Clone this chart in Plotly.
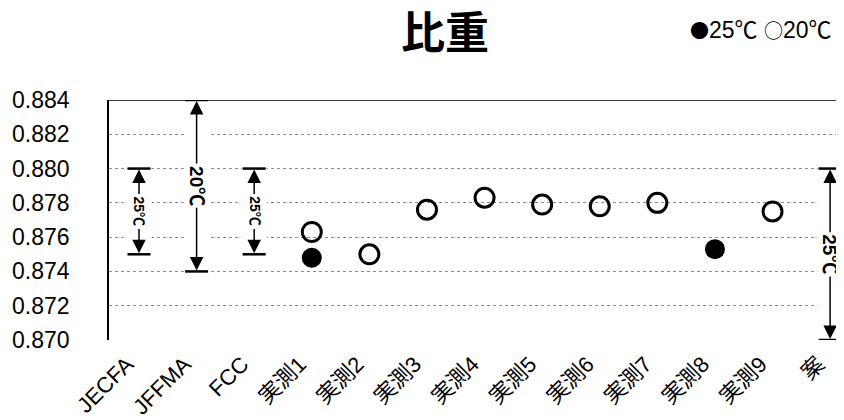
import plotly.graph_objects as go

categories = ['JECFA', 'JFFMA', 'FCC', '実測1', '実測2', '実測3', '実測4', '実測5',
              '実測6', '実測7', '実測8', '実測9', '案']
# measured specific gravity at 25 °C (filled) and 20 °C (open)
sg_25c = [None, None, None, 0.8748, None, None, None, None, None, None, 0.8753, None, None]
sg_20c = [None, None, None, 0.8763, 0.8750, 0.8776, 0.8783, 0.8779, 0.8778, 0.8780, None, 0.8775, None]

# specification ranges
spec_cats = ['JECFA', 'JFFMA', 'FCC', '案']
spec_lo = [0.875, 0.874, 0.875, 0.870]
spec_hi = [0.880, 0.884, 0.880, 0.880]
spec_labels = ['25℃', '20℃', '25℃', '25℃']
spec_font = [14, 19, 14, 19]

y_ticks = [0.870, 0.872, 0.874, 0.876, 0.878, 0.880, 0.882, 0.884]

FONT = 'Liberation Sans, Arial, Noto Sans CJK JP'
CJK = 'Noto Sans CJK JP'

fig = go.Figure()
fig.add_trace(go.Scatter(x=categories, y=sg_25c, mode='markers', name='25℃',
                         marker=dict(symbol='circle', size=20, color='black'),
                         cliponaxis=False))
fig.add_trace(go.Scatter(x=categories, y=sg_20c, mode='markers', name='20℃',
                         marker=dict(symbol='circle-open', size=19, color='black',
                                     line=dict(width=3, color='black')),
                         cliponaxis=False))

px_per_unit = 34.4 / 0.002
for cat, lo, hi, lab, fs in zip(spec_cats, spec_lo, spec_hi, spec_labels, spec_font):
    idx = categories.index(cat)
    mid = (lo + hi) / 2
    half_txt = (len(lab) * 0.62 * fs) / 2 + 3
    gap = half_txt / px_per_unit
    # white band hiding gridlines
    fig.add_shape(type='rect', xref='x', yref='y', x0=idx - 0.22, x1=idx + 0.22,
                  y0=lo, y1=hi, fillcolor='white', line=dict(width=0), layer='between')
    for yv in (lo, hi):
        fig.add_shape(type='line', xref='x', yref='y', x0=idx - 0.2, x1=idx + 0.2,
                      y0=yv, y1=yv, line=dict(color='black', width=2.5), layer='above')
    for end, start in ((hi, mid + gap), (lo, mid - gap)):
        fig.add_annotation(x=idx, y=end, ax=idx, ay=start, xref='x', yref='y',
                           axref='x', ayref='y', text='', showarrow=True, arrowhead=2,
                           arrowsize=1.8, arrowwidth=1.5, arrowcolor='black', standoff=1)
    fig.add_annotation(x=idx, y=mid, xref='x', yref='y', text='<b>' + lab + '</b>',
                       textangle=90, showarrow=False,
                       font=dict(family=FONT, size=fs, color='black'))

# top frame line
fig.add_shape(type='line', xref='paper', yref='y', x0=0, x1=1, y0=0.884, y1=0.884,
              line=dict(color='black', width=1.5), layer='above')

# legend text
sym = '<span style="font-family:Noto Sans CJK JP;font-size:19px">{}</span>'
fig.add_annotation(x=(680 - 101) / 743, y=1 + (92 - 22) / 240, xref='paper', yref='paper',
                   text=sym.format('●') + '25℃ ' + sym.format('○') + '20℃',
                   showarrow=False, xanchor='left', yanchor='middle',
                   font=dict(family=FONT, size=23, color='black'))

fig.update_layout(
    width=844, height=420,
    margin=dict(l=101, r=0, t=92, b=88),
    paper_bgcolor='white', plot_bgcolor='white',
    showlegend=False,
    title=dict(text='<b>比重</b>', x=437 / 844, xanchor='center', xref='container',
               y=1 - 26 / 420, yanchor='middle', yref='container',
               font=dict(family=CJK, size=44, color='black')),
    font=dict(family=FONT, color='black'),
)
fig.update_xaxes(type='category', categoryorder='array', categoryarray=categories,
                 range=[-0.521, 12.38], tickangle=-45, showgrid=False, showline=False,
                 zeroline=False, ticks='', tickfont=dict(family=FONT, size=22, color='black'),
                 ticklabelstandoff=6, ticklabelshift=-12)
fig.update_yaxes(range=[0.870, 0.884], tickvals=y_ticks,
                 ticktext=[f'{v:.3f}' for v in y_ticks],
                 showgrid=True, gridcolor='#8c8c8c', griddash='dot', gridwidth=1,
                 showline=True, linecolor='black', linewidth=1.5, zeroline=False,
                 ticks='', tickfont=dict(family=FONT, size=23, color='black'),
                 ticklabelstandoff=33)

fig.write_html('out.html')
